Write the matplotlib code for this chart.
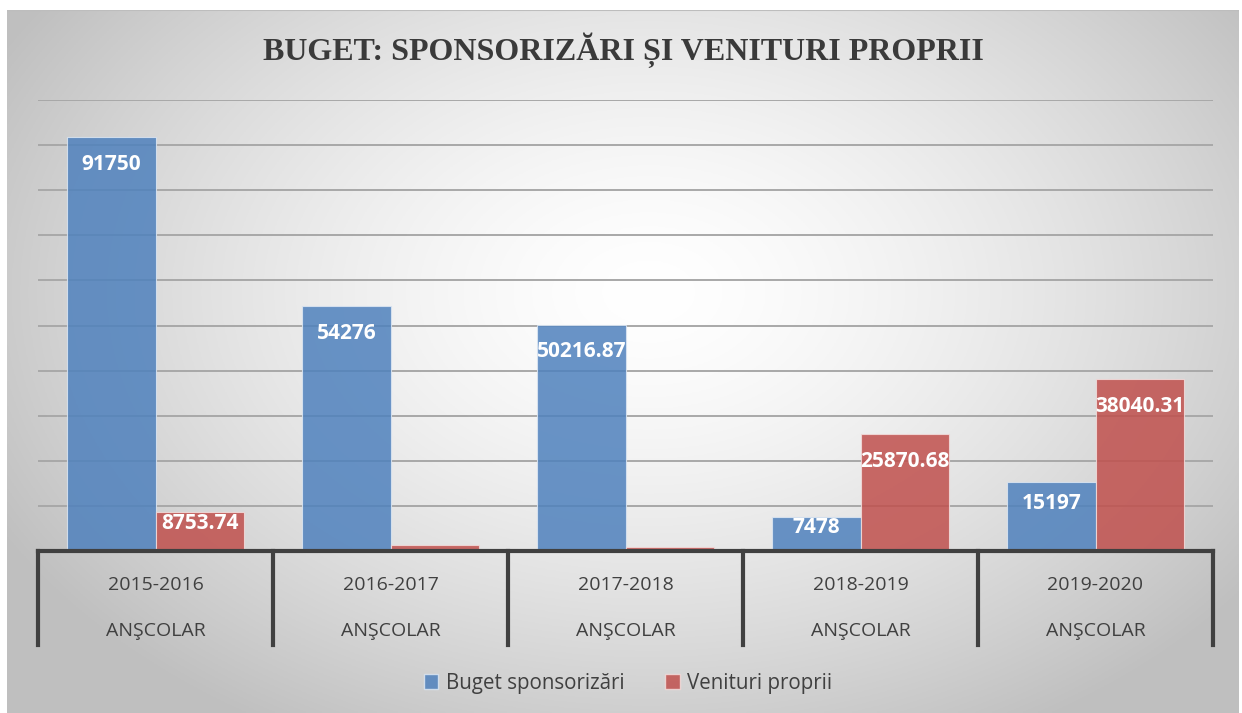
import numpy as np
import matplotlib
matplotlib.use("Agg")
import matplotlib.pyplot as plt
from matplotlib.patches import Patch

# ---- data ----
years = ["2015-2016", "2016-2017", "2017-2018", "2018-2019", "2019-2020"]
sublabel = "ANŞCOLAR"
sponsorizari = [91750, 54276, 50216.87, 7478, 15197]
venituri = [8753.74, 1250, 850, 25870.68, 38040.31]
spons_labels = ["91750", "54276", "50216.87", "7478", "15197"]
ven_labels = ["8753.74", None, None, "25870.68", "38040.31"]
title = "BUGET: SPONSORIZĂRI ȘI VENITURI PROPRII"
series_names = ["Buget sponsorizări", "Venituri proprii"]

W, H = 1242, 713
fig = plt.figure(figsize=(W / 100, H / 100), dpi=100)
fig.patch.set_facecolor("white")

# background with radial gradient
bx0, by0, bx1, by1 = 7, 10, 1239, 713
bg = fig.add_axes([bx0 / W, 1 - by1 / H, (bx1 - bx0) / W, (by1 - by0) / H])
ny, nx = 300, 520
yy, xx = np.mgrid[0:ny, 0:nx]
cx, cy = nx * 0.52, ny * 0.40
r = np.sqrt(((xx - cx) / (nx * 0.60)) ** 2 + ((yy - cy) / (ny * 0.72)) ** 2)
r = np.clip(r, 0, 1)
val = 1.0 - 0.25 * r ** 1.5
img = np.dstack([val, val, val])
bg.imshow(img, aspect="auto", extent=[0, 1, 0, 1], origin="upper")
bg.set_xlim(0, 1); bg.set_ylim(0, 1)
bg.axis("off")
bg.plot([0, 1], [1, 1], color="#bdbdbd", lw=1.5, transform=bg.transAxes)

# main axes
ax_l, ax_r = 38, 1213
ax_b, ax_t = 551, 100
ax = fig.add_axes([ax_l / W, 1 - ax_b / H, (ax_r - ax_l) / W, (ax_b - ax_t) / H])
ax.set_facecolor("none")
ax.set_xlim(-0.5, len(years) - 0.5)
ax.set_ylim(0, 100000)
ax.set_yticks(np.arange(10000, 100001, 10000))
ax.yaxis.grid(True, color="#a8a8a8", lw=1.4)
ax.set_axisbelow(True)
ax.tick_params(left=False, bottom=False, labelleft=False, labelbottom=False)
for s in ax.spines.values():
    s.set_visible(False)

x = np.arange(len(years))
bw = 0.375
blue = "#4f81bd"
red = "#c0504d"
b1 = ax.bar(x - bw / 2, sponsorizari, bw, color=blue, alpha=0.85,
            edgecolor="#dce6f2", linewidth=0.8, zorder=2)
b2 = ax.bar(x + bw / 2, venituri, bw, color=red, alpha=0.85,
            edgecolor="#f2dcdb", linewidth=0.8, zorder=2)

px_per_unit = (ax_b - ax_t) / 100000.0
lab_font = dict(family=["Open Sans", "DejaVu Sans"], fontsize=15,
                fontweight="bold", color="white")
for bars, labels in ((b1, spons_labels), (b2, ven_labels)):
    for bar, lab in zip(bars, labels):
        if lab is None:
            continue
        h = bar.get_height()
        hp = h * px_per_unit
        off = min(27.0, 0.31 * hp)
        ax.annotate(lab, (bar.get_x() + bar.get_width() / 2, h),
                    xytext=(0, -off * 72 / 100), textcoords="offset points",
                    ha="center", va="center", zorder=4, **lab_font)

# category axis: baseline and separators
axis_col = "#404040"
sep_bottom = 645
trans = fig.transFigure
fig.add_artist(plt.Line2D([ax_l / W, ax_r / W], [1 - ax_b / H, 1 - ax_b / H],
                          color=axis_col, lw=3, transform=trans, zorder=5))
cat_w = (ax_r - ax_l) / len(years)
for i in range(len(years) + 1):
    xp = ax_l + i * cat_w
    fig.add_artist(plt.Line2D([xp / W, xp / W], [1 - ax_b / H, 1 - sep_bottom / H],
                              color=axis_col, lw=3, transform=trans, zorder=5))
cat_font = dict(family=["Open Sans", "DejaVu Sans"], fontsize=14, color="#404040")
for i, yr in enumerate(years):
    xc = ax_l + (i + 0.5) * cat_w
    fig.text(xc / W, 1 - 585 / H, yr, ha="center", va="center", **cat_font)
    fig.text(xc / W, 1 - 631 / H, sublabel, ha="center", va="center", **cat_font)

# title
fig.text(623 / W, 1 - 50 / H, title, ha="center", va="center",
         family=["Liberation Serif", "DejaVu Serif"], fontweight="bold",
         fontsize=23, color="#3a3a3a")

# legend
handles = [Patch(facecolor=blue, alpha=0.85, edgecolor="#dce6f2"),
           Patch(facecolor=red, alpha=0.85, edgecolor="#f2dcdb")]
leg = fig.legend(handles, series_names, loc="center", bbox_to_anchor=(628 / W, 1 - 683 / H),
                 ncol=2, frameon=False, handlelength=0.7, handleheight=0.7,
                 handletextpad=0.35, columnspacing=2.0,
                 prop=dict(family=["Open Sans", "DejaVu Sans"], size=14.8))
for t in leg.get_texts():
    t.set_color("#404040")

fig.savefig("out.png", dpi=100)
